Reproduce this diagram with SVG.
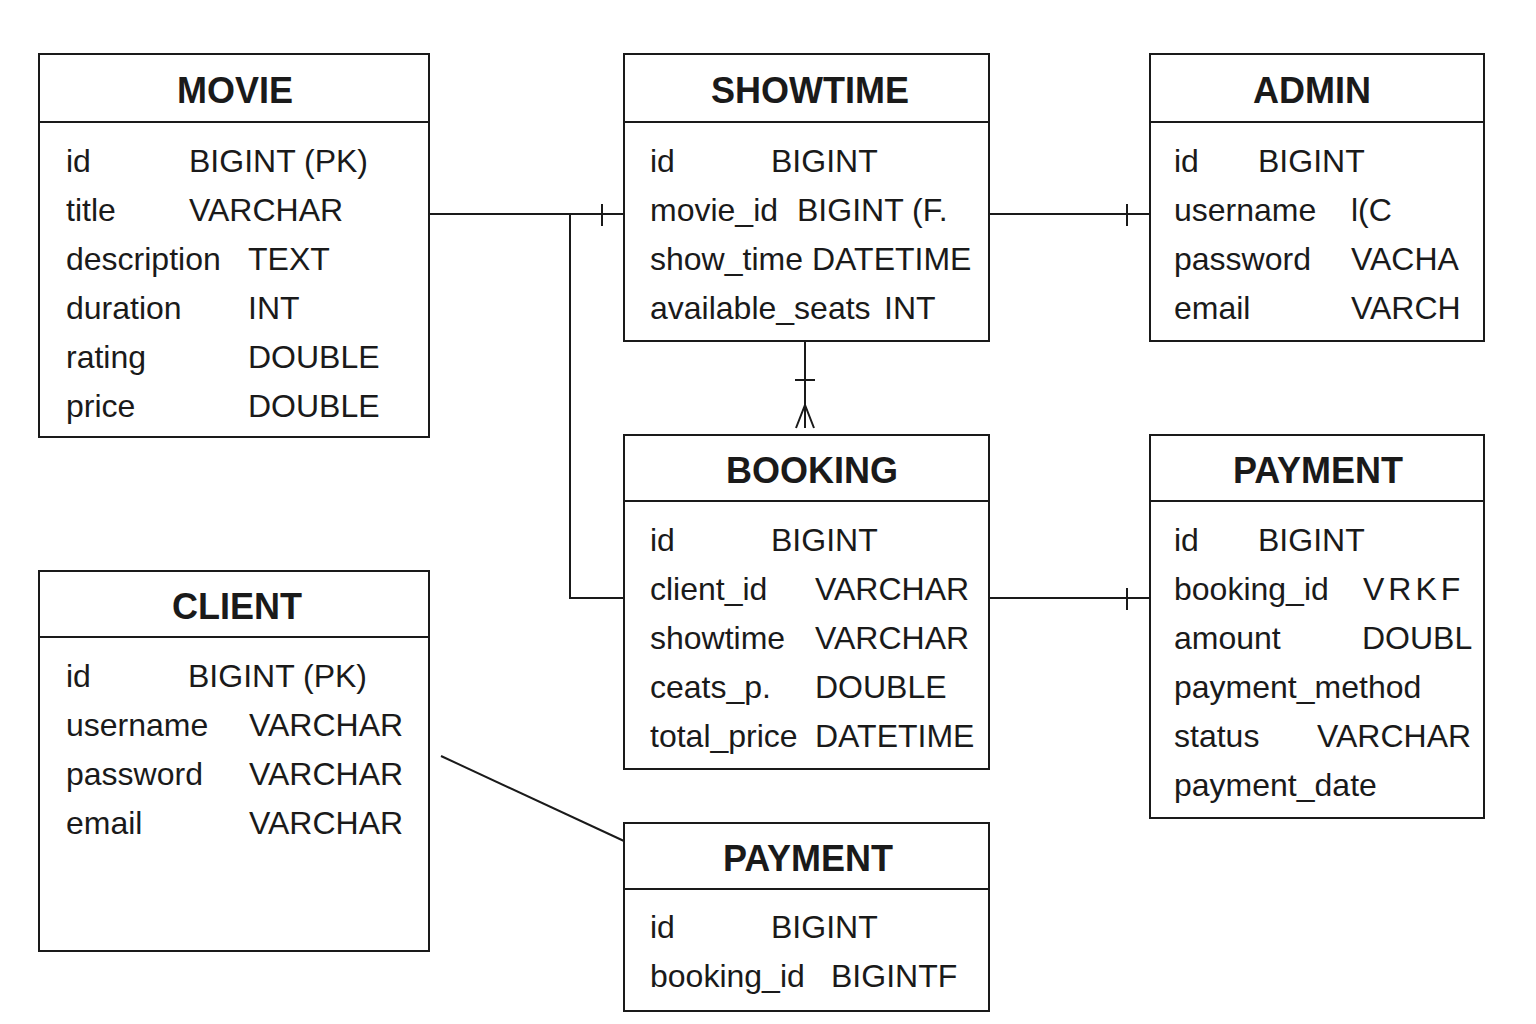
<svg xmlns="http://www.w3.org/2000/svg" width="1536" height="1024" viewBox="0 0 1536 1024">
<style>
.box{fill:#fff;stroke:#1a1a1a;stroke-width:2}
.div{stroke:#1a1a1a;stroke-width:2}
.t{font-family:"Liberation Sans",Arial,sans-serif;font-size:36px;font-weight:bold;fill:#1a1a1a;text-anchor:middle}
.r{font-family:"Liberation Sans",Arial,sans-serif;font-size:32px;fill:#1a1a1a}
.c{fill:none;stroke:#1a1a1a;stroke-width:2}
</style>
<rect width="1536" height="1024" fill="#fff"/>
<g id="connectors">
<path class="c" d="M429 214H624M602 204V226"/>
<path class="c" d="M570 214V598H624"/>
<path class="c" d="M989 214H1150M1127 204V226"/>
<path class="c" d="M805 341V428M795 380H815M796 428L805 405L814 428"/>
<path class="c" d="M989 598H1150M1127 588V610"/>
<path class="c" d="M441 756L624 841"/>
</g>
<g id="movie">
<rect class="box" x="39" y="54" width="390" height="383"/>
<line class="div" x1="39" y1="122" x2="429" y2="122"/>
<text class="t" x="235" y="103">MOVIE</text>
<text class="r" x="66" y="172">id</text><text class="r" x="189" y="172">BIGINT (PK)</text>
<text class="r" x="66" y="221">title</text><text class="r" x="189" y="221">VARCHAR</text>
<text class="r" x="66" y="270">description</text><text class="r" x="248" y="270">TEXT</text>
<text class="r" x="66" y="319">duration</text><text class="r" x="248" y="319">INT</text>
<text class="r" x="66" y="368">rating</text><text class="r" x="248" y="368">DOUBLE</text>
<text class="r" x="66" y="417">price</text><text class="r" x="248" y="417">DOUBLE</text>
</g>
<g id="showtime">
<rect class="box" x="624" y="54" width="365" height="287"/>
<line class="div" x1="624" y1="122" x2="989" y2="122"/>
<text class="t" x="810" y="103">SHOWTIME</text>
<text class="r" x="650" y="172">id</text><text class="r" x="771" y="172">BIGINT</text>
<text class="r" x="650" y="221">movie_id</text><text class="r" x="797" y="221">BIGINT (F.</text>
<text class="r" x="650" y="270">show_time</text><text class="r" x="812" y="270">DATETIME</text>
<text class="r" x="650" y="319">available_seats</text><text class="r" x="884" y="319">INT</text>
</g>
<g id="admin">
<rect class="box" x="1150" y="54" width="334" height="287"/>
<line class="div" x1="1150" y1="122" x2="1484" y2="122"/>
<text class="t" x="1312" y="103">ADMIN</text>
<text class="r" x="1174" y="172">id</text><text class="r" x="1258" y="172">BIGINT</text>
<text class="r" x="1174" y="221">username</text><text class="r" x="1351" y="221">l(C</text>
<text class="r" x="1174" y="270">password</text><text class="r" x="1351" y="270">VACHA</text>
<text class="r" x="1174" y="319">email</text><text class="r" x="1351" y="319">VARCH</text>
</g>
<g id="booking">
<rect class="box" x="624" y="435" width="365" height="334"/>
<line class="div" x1="624" y1="501" x2="989" y2="501"/>
<text class="t" x="812" y="483">BOOKING</text>
<text class="r" x="650" y="551">id</text><text class="r" x="771" y="551">BIGINT</text>
<text class="r" x="650" y="600">client_id</text><text class="r" x="815" y="600">VARCHAR</text>
<text class="r" x="650" y="649">showtime</text><text class="r" x="815" y="649">VARCHAR</text>
<text class="r" x="650" y="698">ceats_p.</text><text class="r" x="815" y="698">DOUBLE</text>
<text class="r" x="650" y="747">total_price</text><text class="r" x="815" y="747">DATETIME</text>
</g>
<g id="payment1">
<rect class="box" x="1150" y="435" width="334" height="383"/>
<line class="div" x1="1150" y1="501" x2="1484" y2="501"/>
<text class="t" x="1318" y="483">PAYMENT</text>
<text class="r" x="1174" y="551">id</text><text class="r" x="1258" y="551">BIGINT</text>
<text class="r" x="1174" y="600">booking_id</text><text class="r" x="1363" y="600" letter-spacing="4">VRKF</text>
<text class="r" x="1174" y="649">amount</text><text class="r" x="1362" y="649">DOUBL</text>
<text class="r" x="1174" y="698">payment_method</text>
<text class="r" x="1174" y="747">status</text><text class="r" x="1317" y="747">VARCHAR</text>
<text class="r" x="1174" y="796">payment_date</text>
</g>
<g id="client">
<rect class="box" x="39" y="571" width="390" height="380"/>
<line class="div" x1="39" y1="637" x2="429" y2="637"/>
<text class="t" x="237" y="619">CLIENT</text>
<text class="r" x="66" y="687">id</text><text class="r" x="188" y="687">BIGINT (PK)</text>
<text class="r" x="66" y="736">username</text><text class="r" x="249" y="736">VARCHAR</text>
<text class="r" x="66" y="785">password</text><text class="r" x="249" y="785">VARCHAR</text>
<text class="r" x="66" y="834">email</text><text class="r" x="249" y="834">VARCHAR</text>
</g>
<g id="payment2">
<rect class="box" x="624" y="823" width="365" height="188"/>
<line class="div" x1="624" y1="889" x2="989" y2="889"/>
<text class="t" x="808" y="871">PAYMENT</text>
<text class="r" x="650" y="938">id</text><text class="r" x="771" y="938">BIGINT</text>
<text class="r" x="650" y="987">booking_id</text><text class="r" x="831" y="987">BIGINTF</text>
</g>
</svg>
